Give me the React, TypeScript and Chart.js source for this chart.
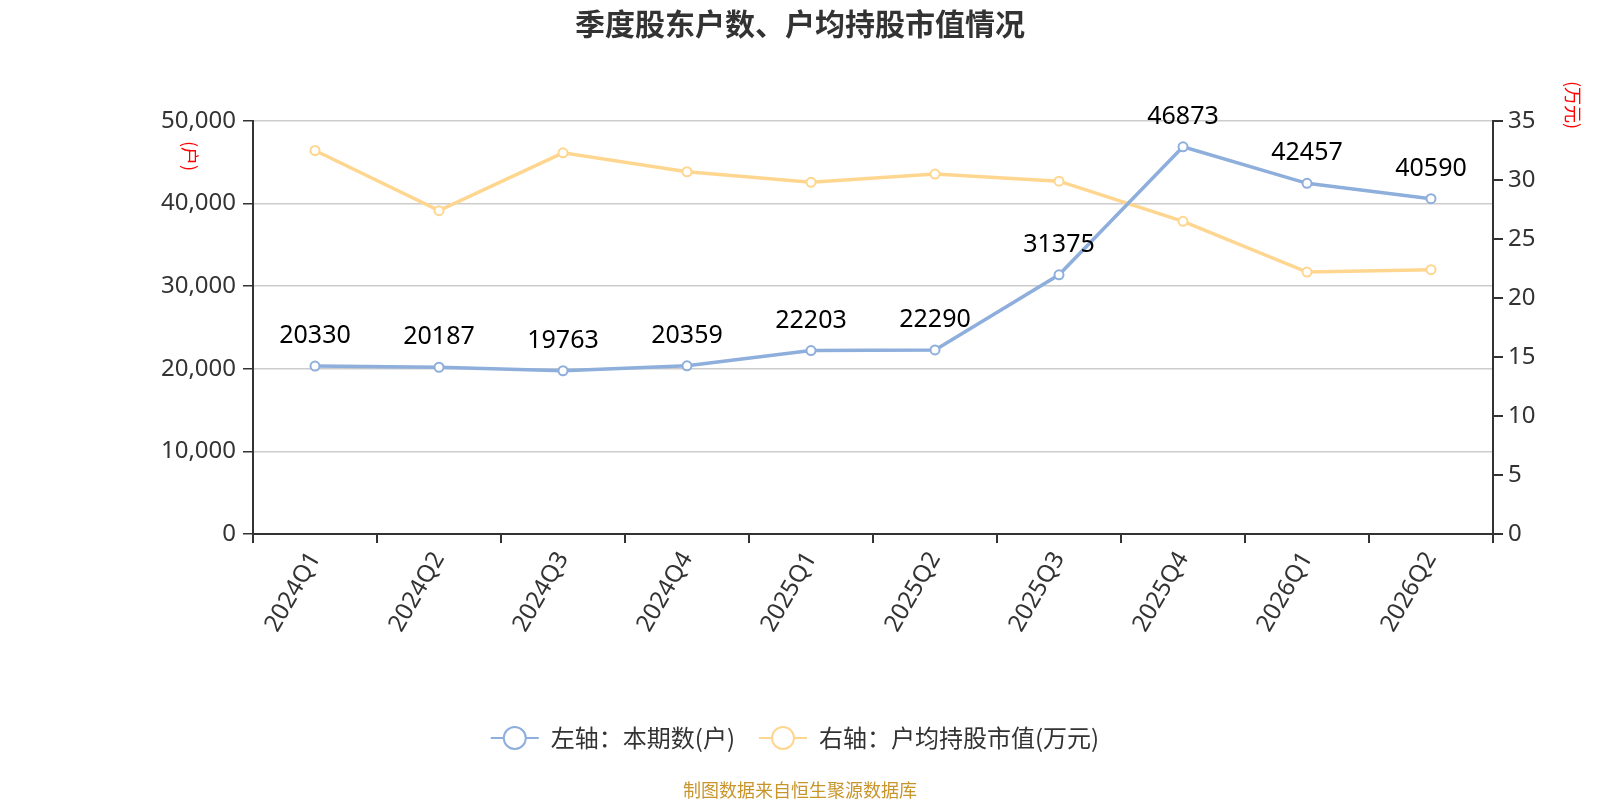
import { useEffect, useRef } from "react"
import { Chart, registerables } from "chart.js"

Chart.register(...registerables)

const categories = ["2024Q1", "2024Q2", "2024Q3", "2024Q4", "2025Q1", "2025Q2", "2025Q3", "2025Q4", "2026Q1", "2026Q2"]
const holders = [20330, 20187, 19763, 20359, 22203, 22290, 31375, 46873, 42457, 40590]
const avgValue = [32.5, 27.4, 32.3, 30.7, 29.8, 30.5, 29.9, 26.5, 22.2, 22.4]

const titleText = "季度股东户数、户均持股市值情况"
const legendLeft = "左轴：本期数(户)"
const legendRight = "右轴：户均持股市值(万元)"
const leftName = "(户)"
const rightName = "(万元)"
const sourceText = "制图数据来自恒生聚源数据库"

const BLUE = "#8eaedc"
const ORANGE = "#ffd68f"
const AXIS = "#333333"
const FONT = "'Noto Sans', 'Noto Sans CJK SC', sans-serif"
const CJK = "'Noto Sans CJK SC', sans-serif"

const decorPlugin = {
  id: "decor",
  afterDatasetsDraw(chart: any) {
    const ctx = chart.ctx as CanvasRenderingContext2D
    ctx.save()

    // value labels above the holders line
    const meta = chart.getDatasetMeta(0)
    ctx.font = `25px ${FONT}`
    ctx.fillStyle = "#000"
    ctx.textAlign = "center"
    ctx.textBaseline = "middle"
    meta.data.forEach((pt: any, i: number) => {
      ctx.fillText(String(holders[i]), pt.x, pt.y - 30)
    })
    ctx.restore()
  },
  afterDraw(chart: any) {
    const ctx = chart.ctx as CanvasRenderingContext2D
    const w = chart.width
    ctx.save()

    // title
    ctx.font = `bold 30px ${CJK}`
    ctx.fillStyle = "#333"
    ctx.textAlign = "center"
    ctx.textBaseline = "middle"
    ctx.fillText(titleText, w / 2, 24)

    // axis names, rotated
    ctx.font = `18px ${CJK}`
    ctx.fillStyle = "#ff0000"
    ctx.save()
    ctx.translate(190, 156)
    ctx.rotate(Math.PI / 2)
    ctx.fillText(leftName, 0, 0)
    ctx.restore()
    ctx.save()
    ctx.translate(1573, 105)
    ctx.rotate(Math.PI / 2)
    ctx.fillText(rightName, 0, 0)
    ctx.restore()

    // legend, centred under the chart
    const ly = 738
    const symW = 48
    const gapText = 12
    const gapItem = 24
    ctx.font = `24px ${CJK}`
    ctx.textAlign = "left"
    const items = [
      { color: BLUE, text: legendLeft },
      { color: ORANGE, text: legendRight },
    ]
    const widths = items.map((it) => symW + gapText + ctx.measureText(it.text).width)
    const total = widths[0] + widths[1] + gapItem
    let x = w / 2 - total / 2 - 5
    items.forEach((it, i) => {
      ctx.strokeStyle = it.color
      ctx.lineWidth = 2
      ctx.beginPath()
      ctx.moveTo(x, ly)
      ctx.lineTo(x + symW, ly)
      ctx.stroke()
      ctx.beginPath()
      ctx.arc(x + symW / 2, ly, 11, 0, Math.PI * 2)
      ctx.fillStyle = "#fff"
      ctx.fill()
      ctx.stroke()
      ctx.fillStyle = "#333"
      ctx.fillText(it.text, x + symW + gapText, ly)
      x += widths[i] + gapItem
    })

    // source
    ctx.font = `18px ${CJK}`
    ctx.fillStyle = "#c8952a"
    ctx.textAlign = "center"
    ctx.fillText(sourceText, 800, 790)
    ctx.restore()
  },
}

export default function App() {
  const canvasRef = useRef<HTMLCanvasElement>(null)

  useEffect(() => {
    if (!canvasRef.current) return
    const chart = new Chart(canvasRef.current, {
      type: "line",
      data: {
        labels: categories,
        datasets: [
          {
            label: legendLeft,
            data: holders,
            yAxisID: "y",
            borderColor: BLUE,
            backgroundColor: "#fff",
            borderWidth: 3.5,
            pointRadius: 4.5,
            pointBorderWidth: 2,
            pointBackgroundColor: "#fff",
            pointBorderColor: BLUE,
            tension: 0,
          },
          {
            label: legendRight,
            data: avgValue,
            yAxisID: "y1",
            borderColor: ORANGE,
            backgroundColor: "#fff",
            borderWidth: 3.5,
            pointRadius: 4.5,
            pointBorderWidth: 2,
            pointBackgroundColor: "#fff",
            pointBorderColor: ORANGE,
            tension: 0,
          },
        ],
      },
      options: {
        responsive: false,
        animation: false,
        layout: { padding: { top: 121, left: 0, right: 0, bottom: 0 } },
        plugins: {
          legend: { display: false },
          tooltip: { enabled: false },
          title: { display: false },
        },
        scales: {
          x: {
            offset: true,
            grid: { offset: true, drawOnChartArea: false, tickColor: AXIS, tickLength: 9, lineWidth: 2 },
            border: { color: AXIS, width: 2 },
            ticks: {
              color: AXIS,
              font: { size: 24, family: FONT },
              minRotation: 60,
              maxRotation: 60,
              padding: 4,
            },
            afterFit: (s: any) => {
              s.height = 266
            },
          },
          y: {
            position: "left",
            min: 0,
            max: 50000,
            ticks: {
              stepSize: 10000,
              color: AXIS,
              font: { size: 24, family: FONT },
              padding: 7,
              callback: (v: any) => Number(v).toLocaleString("en-US"),
            },
            grid: { color: "#cccccc", lineWidth: 1.5, tickColor: AXIS, tickLength: 10 },
            border: { color: AXIS, width: 2 },
            afterFit: (s: any) => {
              s.width = 253
            },
          },
          y1: {
            position: "right",
            min: 0,
            max: 35,
            ticks: {
              stepSize: 5,
              color: AXIS,
              font: { size: 24, family: FONT },
              padding: 5,
            },
            grid: { drawOnChartArea: false, tickColor: AXIS, tickLength: 10, lineWidth: 2 },
            border: { color: AXIS, width: 2 },
            afterFit: (s: any) => {
              s.width = 107
            },
          },
        },
      },
      plugins: [decorPlugin],
    })
    return () => {
      chart.destroy()
    }
  }, [])

  return (
    <div style={{ position: "absolute", left: 0, top: 0, width: 1600, height: 800, background: "#fff" }}>
      <canvas ref={canvasRef} width={1600} height={800} />
    </div>
  )
}
